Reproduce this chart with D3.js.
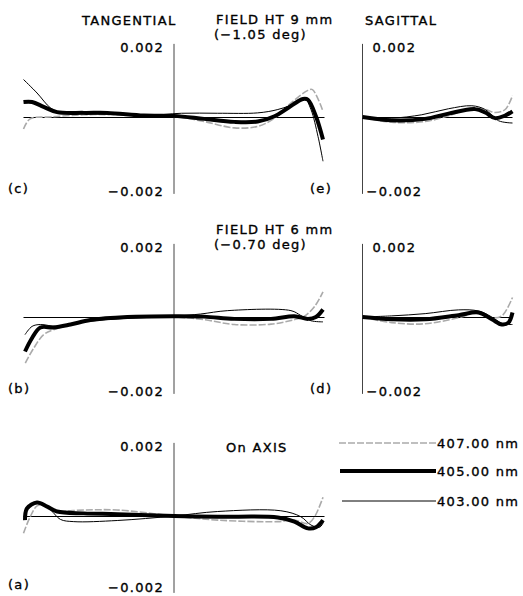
<html>
<head>
<script src="https://d3js.org/d3.v7.min.js"></script>
<style>
  body { margin: 0; background: #fff; }
  text { font-family: "DejaVu Sans"; font-size: 13px; letter-spacing: 1.3px; fill: #000; stroke: #000; stroke-width: 0.35px; }
</style>
</head>
<body>
<svg width=523 height=596></svg>
<script>
// ray aberration (mm) vs relative pupil coordinate
const wavelengths = ['407.00 nm', '405.00 nm', '403.00 nm'];

// field 9 mm, tangential (c)
const tan9_407 = [[-1,-0.00032],[-0.956,-0.00005],[-0.82,0],[-0.6,0.00006],[-0.38,0.00006],[0,0.00002],[0.2,-0.00012],[0.4,-0.00029],[0.556,-0.00025],[0.668,-0.00003],[0.777,0.00037],[0.89,0.00071],[0.92,0.00073],[0.99,0.00015]];
const tan9_405 = [[-1,0.0004],[-0.943,0.0004],[-0.866,0.00027],[-0.777,0.00013],[-0.6,0.00011],[-0.443,0.00011],[-0.2,0.00004],[0,0.00003],[0.2,-0.00005],[0.4,-0.00013],[0.556,-0.00012],[0.668,0.00002],[0.757,0.00024],[0.857,0.00048],[0.89,0.00046],[0.943,0.00002],[0.99,-0.0006]];
const tan9_403 = [[-1,0.001],[-0.91,0.00064],[-0.82,0.00024],[-0.755,0.000125],[-0.49,0.00008],[-0.2,0.000035],[0.05,0.0001],[0.29,0.0001],[0.556,0.00011],[0.69,0.0002],[0.823,0.00039],[0.868,0.0005],[0.91,0.0002],[0.957,-0.00052],[0.99,-0.00118]];
// field 9 mm, sagittal (e)
const sag9_407 = [[0,0],[0.195,-0.00014],[0.418,-0.00012],[0.595,0.00006],[0.729,0.00024],[0.818,0.0002],[0.884,0.00012],[0.951,0.0002],[1,0.00057]];
const sag9_405 = [[0,0],[0.195,-0.00009],[0.418,-0.00005],[0.573,0.00009],[0.751,0.00021],[0.818,0.00012],[0.884,-0.00003],[0.951,0.00004],[1,0.00015]];
const sag9_403 = [[0,0],[0.195,-0.00003],[0.395,0.00006],[0.573,0.00022],[0.729,0.0003],[0.818,0.0002],[0.907,-0.0001],[1,-0.00016]];

// field 6 mm, tangential (b)
const tan6_407 = [[-0.988,-0.00123],[-0.932,-0.00083],[-0.866,-0.00047],[-0.8,-0.00034],[-0.6,-0.00012],[-0.377,-0.00003],[0,0],[0.2,-0.00007],[0.4,-0.0002],[0.645,-0.00019],[0.8,-0.00007],[0.866,0.00002],[0.934,0.00028],[0.99,0.00067]];
const tan6_405 = [[-0.99,-0.00092],[-0.943,-0.00056],[-0.888,-0.00028],[-0.8,-0.00028],[-0.688,-0.0002],[-0.555,-0.00008],[-0.31,0],[0,0.00002],[0.2,0.00001],[0.4,-0.00005],[0.645,-0.00005],[0.8,0.00002],[0.89,-0.00005],[0.943,0],[0.99,0.0002]];
const tan6_403 = [[-0.99,-0.00047],[-0.943,-0.00025],[-0.888,-0.0002],[-0.777,-0.00025],[-0.6,-0.00013],[-0.377,-0.00005],[0,0.00002],[0.177,0.00008],[0.357,0.00017],[0.777,0.00017],[0.843,0.00004],[0.91,-0.0001],[0.99,-0.00013]];
// field 6 mm, sagittal (d)
const sag6_407 = [[0,0],[0.195,-0.00015],[0.418,-0.00018],[0.64,-0.00002],[0.773,0.00012],[0.862,-0.00002],[0.929,0.00003],[1,0.00052]];
const sag6_405 = [[0,0],[0.195,-0.00006],[0.418,-0.00006],[0.64,0.00005],[0.773,0.00012],[0.862,-0.00006],[0.929,-0.0002],[0.973,-0.00015],[1,0.00012]];
const sag6_403 = [[0,0],[0.195,0.00003],[0.418,0.00009],[0.64,0.00019],[0.773,0.00016],[0.862,0],[0.929,-0.00017],[1,-0.0002]];

// on axis, tangential (a)
const tan0_407 = [[-1,-0.00046],[-0.96,-0.00006],[-0.91,0.00027],[-0.866,0.00029],[-0.777,0.00014],[-0.6,0.00016],[-0.377,0.00016],[0,0],[0.29,-0.00011],[0.69,-0.00015],[0.8,-0.00011],[0.89,-0.0002],[0.934,-0.00002],[0.99,0.0005]];
const tan0_405 = [[-0.99,-0.00011],[-0.977,0.0002],[-0.91,0.00036],[-0.843,0.00025],[-0.777,0.00012],[-0.6,0.00007],[-0.377,0.00005],[0,0],[0.29,-0.00002],[0.69,-0.00004],[0.8,-0.00015],[0.89,-0.00033],[0.943,-0.0003],[0.99,-0.00011]];
const tan0_403 = [[-0.99,0.00005],[-0.955,0.00029],[-0.9,0.00036],[-0.82,0.00016],[-0.755,-0.00009],[-0.666,-0.00015],[-0.377,-0.00012],[0,0],[0.29,0.00012],[0.71,0.00014],[0.843,-0.00002],[0.91,-0.00024],[0.968,-0.0003],[0.995,-0.00015]];

const yTicks = ['0.002', '\u22120.002'];

const svg = d3.select('svg');
const styles = [
  { stroke: '#aaa', width: 1.6, dash: '7,2' },
  { stroke: '#000', width: 4, dash: null },
  { stroke: '#000', width: 1, dash: null }
];

const panels = [
  { kind: 'tan', base: 117, data: [tan9_407, tan9_405, tan9_403], left: '(c)', right: '(e)' },
  { kind: 'sag', base: 117, data: [sag9_407, sag9_405, sag9_403] },
  { kind: 'tan', base: 317, data: [tan6_407, tan6_405, tan6_403], left: '(b)', right: '(d)' },
  { kind: 'sag', base: 317, data: [sag6_407, sag6_405, sag6_403] },
  { kind: 'tan', base: 516, data: [tan0_407, tan0_405, tan0_403], left: '(a)' }
];

panels.forEach(p => {
  let x = p.kind == 'tan'
    ? d3.scaleLinear().domain([-1, 1]).range([23.5, 324.5])
    : d3.scaleLinear().domain([0, 1]).range([362.5, 512.5]);
  let y = d3.scaleLinear().domain([-0.002, 0.002]).range([p.base + 75, p.base - 75]);
  let g = svg.append('g');
  let bottomY = Math.min(y(-0.002) + 4, 592); // last panel hits the page edge

  // axes
  g.append('line')
    .attr('x1', x.range()[0]).attr('x2', x.range()[1])
    .attr('y1', y(0) + 0.5).attr('y2', y(0) + 0.5)
    .style('stroke', '#000').style('stroke-width', 1);
  g.append('line')
    .attr('x1', x(0)).attr('x2', x(0))
    .attr('y1', y(0.00195)).attr('y2', y(-0.00205))
    .style('stroke', '#444').style('stroke-width', 1);

  // tick labels
  if (p.kind == 'tan') {
    g.append('text').attr('x', x(0) - 10).attr('y', y(0.002) + 10)
      .style('text-anchor', 'end').text(yTicks[0]);
    g.append('text').attr('x', x(0) - 10).attr('y', bottomY)
      .style('text-anchor', 'end').text(yTicks[1]);
    g.append('text').attr('x', 8).attr('y', bottomY - 3).text(p.left);
    if (p.right) g.append('text').attr('x', 310).attr('y', bottomY - 3).text(p.right);
  } else {
    g.append('text').attr('x', x(0) + 10).attr('y', y(0.002) + 10).text(yTicks[0]);
    g.append('text').attr('x', x(0) + 4).attr('y', bottomY).text(yTicks[1]);
  }

  let line = d3.line().x(d => x(d[0])).y(d => y(d[1])).curve(d3.curveCatmullRom.alpha(0.5));
  p.data.forEach((s, i) => {
    g.append('path')
      .attr('d', line(s))
      .style('fill', 'none')
      .style('stroke', styles[i].stroke)
      .style('stroke-width', styles[i].width)
      .style('stroke-dasharray', styles[i].dash)
      .style('stroke-linejoin', 'round');
  });
});

// titles
let titles = [
  ['TANGENTIAL', 82, 25], ['FIELD HT 9 mm', 216, 24], ['(\u22121.05 deg)', 214, 39],
  ['SAGITTAL', 365, 25],
  ['FIELD HT 6 mm', 216, 234], ['(\u22120.70 deg)', 214, 249],
  ['On AXIS', 226, 452]
];
svg.append('g').selectAll('text').data(titles).join('text')
  .attr('x', d => d[1]).attr('y', d => d[2]).text(d => d[0]);

// legend
let legY = [443, 471, 501], legX0 = [339, 340, 342];
let leg = svg.append('g');
wavelengths.forEach((w, i) => {
  leg.append('line')
    .attr('x1', legX0[i]).attr('x2', 436)
    .attr('y1', legY[i]).attr('y2', legY[i])
    .style('stroke', styles[i].stroke)
    .style('stroke-width', styles[i].width)
    .style('stroke-dasharray', styles[i].dash);
  leg.append('text').attr('x', 437).attr('y', legY[i] + 5).text(w);
});
</script>
</body>
</html>
